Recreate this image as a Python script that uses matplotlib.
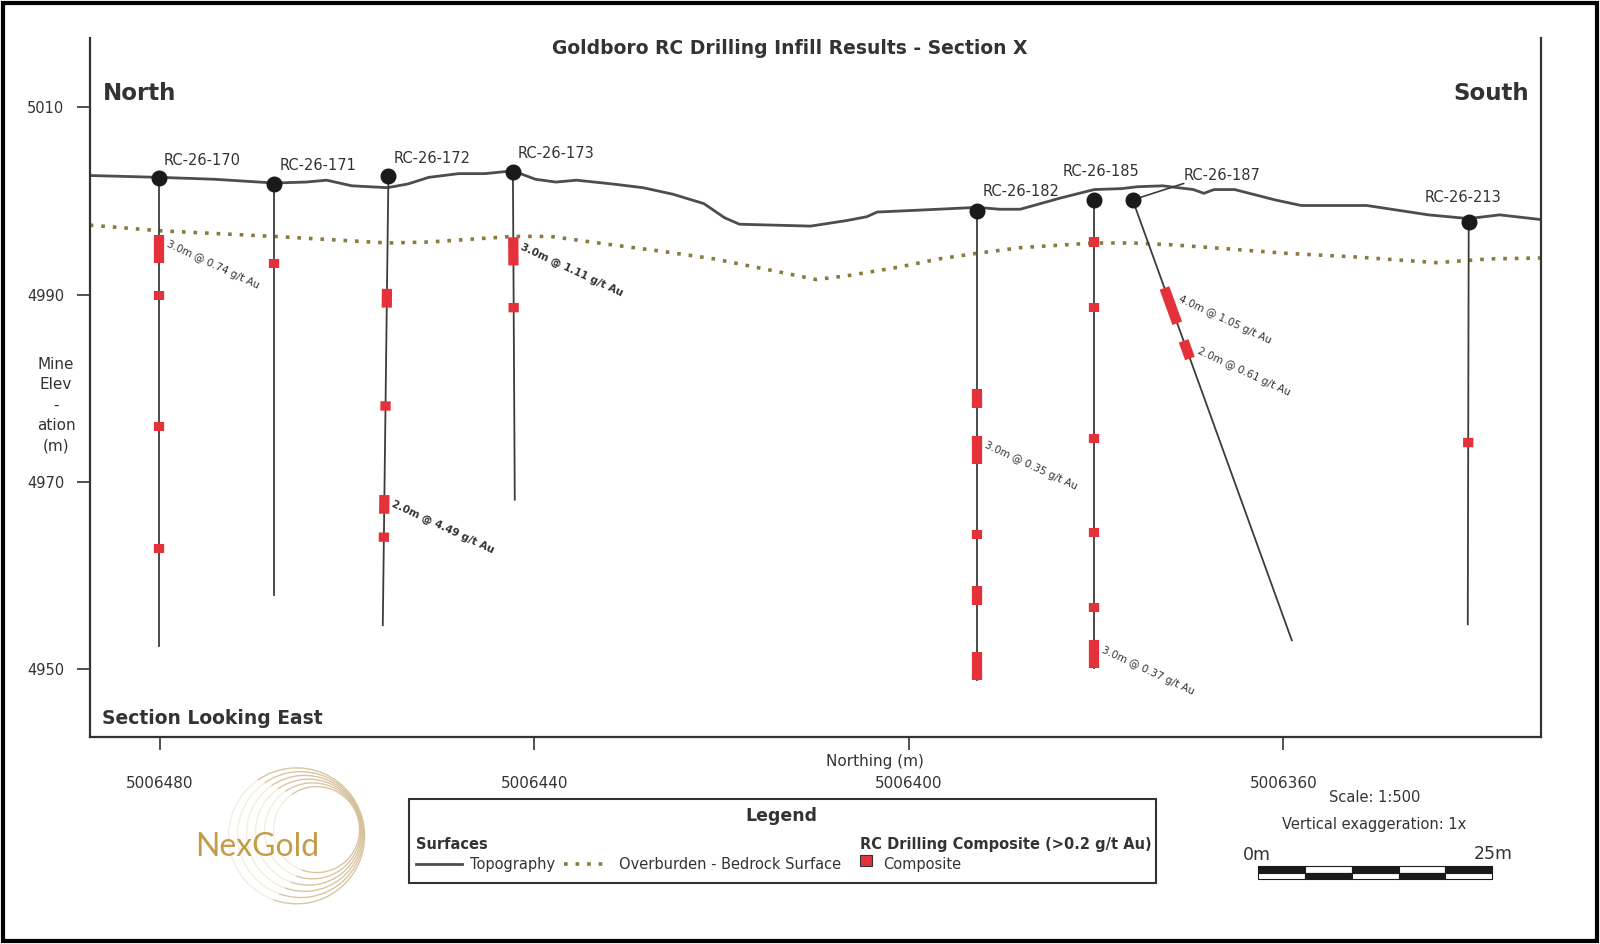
import numpy as np
import matplotlib.pyplot as plt
from matplotlib.patches import Rectangle, Arc

# drill holes: collar and end of hole, as (northing, elevation)
hole_ids = ['RC-26-170', 'RC-26-171', 'RC-26-172', 'RC-26-173',
            'RC-26-182', 'RC-26-185', 'RC-26-187', 'RC-26-213']
collar_n = [5006480.1, 5006467.8, 5006455.6, 5006442.3,
            5006392.7, 5006380.2, 5006376.1, 5006340.2]
collar_z = [5002.4, 5001.8, 5002.6, 5003.1, 4998.9, 5000.1, 5000.1, 4997.7]
end_n = [5006480.1, 5006467.8, 5006456.2, 5006442.1,
         5006392.7, 5006380.2, 5006359.1, 5006340.3]
end_z = [4952.5, 4957.9, 4954.7, 4968.1, 4948.9, 4950.1, 4953.1, 4954.8]

# composites (>0.2 g/t Au), depth along hole in m
comp_hole = [0, 0, 0, 0,
             1,
             2, 2, 2, 2,
             3, 3,
             4, 4, 4, 4, 4,
             5, 5, 5, 5, 5, 5,
             6, 6,
             7]
comp_from = [6, 12, 26, 39,
             8,
             12, 24, 34, 38,
             7, 14,
             19, 24, 34, 40, 47,
             4, 11, 25, 35, 43, 47,
             10, 16,
             23]
comp_to = [9, 13, 27, 40,
           9,
           14, 25, 36, 39,
           10, 15,
           21, 27, 35, 42, 50,
           5, 12, 26, 36, 44, 50,
           14, 18,
           24]
comp_text = ['3.0m @ 0.74 g/t Au', '', '', '',
             '',
             '', '', '2.0m @ 4.49 g/t Au', '',
             '3.0m @ 1.11 g/t Au', '',
             '', '3.0m @ 0.35 g/t Au', '', '', '',
             '', '', '', '', '', '3.0m @ 0.37 g/t Au',
             '4.0m @ 1.05 g/t Au', '2.0m @ 0.61 g/t Au',
             '']
bold_text = ['2.0m @ 4.49 g/t Au', '3.0m @ 1.11 g/t Au']

# surfaces
topo_n = [5006487.5, 5006480.0, 5006474.2, 5006467.8, 5006464.4, 5006462.2,
          5006459.5, 5006455.7, 5006453.5, 5006451.3, 5006448.1, 5006445.3,
          5006442.3, 5006439.9, 5006437.7, 5006435.5, 5006431.7, 5006428.4,
          5006425.2, 5006421.9, 5006419.7, 5006418.1, 5006414.3, 5006410.5,
          5006406.6, 5006404.5, 5006403.4, 5006399.0, 5006392.7, 5006390.3,
          5006388.1, 5006383.8, 5006380.2, 5006377.3, 5006375.6, 5006372.9,
          5006369.6, 5006368.5, 5006367.4, 5006365.2, 5006360.9, 5006358.1,
          5006351.1, 5006347.8, 5006344.5, 5006340.2, 5006336.9, 5006332.5]
topo_z = [5002.7, 5002.5, 5002.3, 5001.9, 5002.0, 5002.2,
          5001.6, 5001.4, 5001.8, 5002.5, 5002.9, 5002.9,
          5003.2, 5002.3, 5002.0, 5002.2, 5001.8, 5001.4,
          5000.7, 4999.7, 4998.2, 4997.5, 4997.4, 4997.3,
          4997.9, 4998.3, 4998.8, 4999.0, 4999.3, 4999.1,
          4999.1, 5000.3, 5001.2, 5001.3, 5001.5, 5001.6,
          5001.2, 5000.8, 5001.2, 5001.2, 5000.1, 4999.5,
          4999.5, 4999.0, 4998.5, 4998.1, 4998.5, 4998.0]
ob_n = [5006487.5, 5006480.0, 5006467.8, 5006455.7, 5006451.3, 5006442.3,
        5006438.3, 5006431.7, 5006426.3, 5006420.8, 5006414.3, 5006409.9,
        5006406.6, 5006401.2, 5006396.8, 5006392.7, 5006388.1, 5006380.2,
        5006376.1, 5006371.8, 5006366.3, 5006359.8, 5006352.2, 5006343.6,
        5006338.0, 5006332.5]
ob_z = [4997.4, 4996.8, 4996.2, 4995.5, 4995.6, 4996.2,
        4996.2, 4995.3, 4994.6, 4993.8, 4992.5, 4991.6,
        4992.0, 4992.9, 4993.8, 4994.4, 4995.0, 4995.5,
        4995.5, 4995.3, 4994.9, 4994.4, 4994.0, 4993.4,
        4993.8, 4993.9]

x_ticks = [5006480, 5006440, 5006400, 5006360]
y_ticks = [5010, 4990, 4970, 4950]

# label offsets for hole names (points from collar)
label_off = [(3, 13), (3.7, 13.2), (3.7, 13.2), (3.7, 13.2),
             (3.7, 14), (-22.8, 20.6), (36.8, 17.6), (-31.6, 17.6)]

txt = '#333333'
line_col = '#4d4d4d'
red = '#e5323a'
gold = '#c49c48'

fig = plt.figure(figsize=(16, 9.44), dpi=100)
ax = fig.add_axes([0.0561, 0.2195, 0.9069, 0.7405])
ax.set_xlim(5006487.5, 5006332.5)
ax.set_ylim(4942.8, 5017.4)

for s in ['left', 'bottom', 'right']:
    ax.spines[s].set_linewidth(1.6)
    ax.spines[s].set_color('#333333')
ax.spines['top'].set_visible(False)

ax.set_xticks(x_ticks)
ax.set_xticklabels([str(t) for t in x_ticks])
ax.set_yticks(y_ticks)
ax.set_yticklabels([str(t) for t in y_ticks])
ax.tick_params(axis='x', length=9.5, width=1.2, pad=19, labelsize=11,
               colors=txt)
ax.tick_params(axis='y', length=9.5, width=1.2, pad=9, labelsize=10.5,
               colors=txt)

ax.plot(topo_n, topo_z, color=line_col, lw=2, zorder=2)
ax.plot(ob_n, ob_z, color='#8a7a3d', lw=2.6, ls=(0, (1, 2.2)), zorder=2)


def along(i, d):
    dn = end_n[i] - collar_n[i]
    dz = end_z[i] - collar_z[i]
    L = np.hypot(dn, dz)
    return collar_n[i] + dn * d / L, collar_z[i] + dz * d / L


# hole traces
for i in range(len(hole_ids)):
    ax.plot([collar_n[i], end_n[i]], [collar_z[i], end_z[i]],
            color='#3c3c3c', lw=1.3, zorder=3)

# composites
for k in range(len(comp_hole)):
    h = comp_hole[k]
    n0, z0 = along(h, comp_from[k])
    n1, z1 = along(h, comp_to[k])
    ax.plot([n0, n1], [z0, z1], color=red, lw=7.4, solid_capstyle='butt',
            zorder=4)
    if comp_text[k]:
        w = 'bold' if comp_text[k] in bold_text else 'normal'
        off = (7, -3) if end_n[h] == collar_n[h] or h != 6 else (12, -4)
        ax.annotate(comp_text[k], xy=(n0, z0), xytext=off,
                    textcoords='offset points', ha='left', va='top',
                    rotation=-25, rotation_mode='anchor', fontsize=7.5,
                    fontweight=w, color=txt, zorder=5)

# collars and labels
ax.plot(collar_n, collar_z, 'o', color='#1a1a1a', ms=10.5, zorder=6)
for i, name in enumerate(hole_ids):
    ax.annotate(name, xy=(collar_n[i], collar_z[i]), xytext=label_off[i],
                textcoords='offset points', ha='left', va='center',
                fontsize=10.5, color=txt, zorder=6)
ax.annotate('', xy=(collar_n[6], collar_z[6]), xytext=(36.8, 11.8),
            textcoords='offset points',
            arrowprops=dict(arrowstyle='-', color='#3c3c3c', lw=1.2,
                            shrinkA=0, shrinkB=0))

# titles and annotations
fig.text(0.4936, 0.949, 'Goldboro RC Drilling Infill Results - Section X',
         ha='center', va='center', fontsize=13.5, fontweight='bold', color=txt)
fig.text(0.0644, 0.9005, 'North', ha='left', va='center', fontsize=16.5,
         fontweight='bold', color=txt)
fig.text(0.9554, 0.9005, 'South', ha='right', va='center', fontsize=16.5,
         fontweight='bold', color=txt)
fig.text(0.0638, 0.2389, 'Section Looking East', ha='left', va='center',
         fontsize=13.5, fontweight='bold', color=txt)
fig.text(0.0351, 0.5708, 'Mine\nElev\n-\nation\n(m)', ha='center',
         va='center', fontsize=11, linespacing=1.45, color=txt)
fig.text(0.5466, 0.1935, 'Northing (m)', ha='center', va='center',
         fontsize=11, color=txt)

# legend box
fig.patches.append(Rectangle((0.2557, 0.0649), 0.4669, 0.0886,
                             transform=fig.transFigure, fill=False,
                             lw=1.5, ec='#333333'))
fig.text(0.4885, 0.1351, 'Legend', ha='center', va='center', fontsize=12.5,
         fontweight='bold', color=txt)
fig.text(0.2602, 0.1059, 'Surfaces', ha='left', va='center', fontsize=10.5,
         fontweight='bold', color=txt)
fig.add_artist(plt.Line2D([0.2602, 0.2889], [0.0843, 0.0843],
                          transform=fig.transFigure, color=line_col, lw=2))
fig.text(0.294, 0.0843, 'Topography', ha='left', va='center', fontsize=10.5,
         color=txt)
fig.add_artist(plt.Line2D([0.3527, 0.3814], [0.0843, 0.0843],
                          transform=fig.transFigure, color='#8a7a3d', lw=2.6,
                          ls=(0, (1, 2.2))))
fig.text(0.3871, 0.0843, 'Overburden - Bedrock Surface', ha='left',
         va='center', fontsize=10.5, color=txt)
fig.text(0.5376, 0.1059, 'RC Drilling Composite (>0.2 g/t Au)', ha='left',
         va='center', fontsize=10.5, fontweight='bold', color=txt)
fig.patches.append(Rectangle((0.5376, 0.0822), 0.0077, 0.0119,
                             transform=fig.transFigure, fc=red, ec='#333333',
                             lw=0.8))
fig.text(0.5517, 0.0843, 'Composite', ha='left', va='center', fontsize=10.5,
         color=txt)

# scale bar (25 m at plot scale)
fig.canvas.draw()
p0 = ax.transData.transform((5006400, 4950))
p1 = ax.transData.transform((5006375, 4950))
bar_w = abs(p1[0] - p0[0]) / fig.bbox.width
bx, by, bh = 0.7864, 0.0692, 0.0065
for j in range(5):
    top_black = j % 2 == 0
    fig.patches.append(Rectangle((bx + j * bar_w / 5, by + bh), bar_w / 5, bh,
                                 transform=fig.transFigure,
                                 fc='#1a1a1a' if top_black else 'white',
                                 ec='#1a1a1a', lw=0.8))
    fig.patches.append(Rectangle((bx + j * bar_w / 5, by), bar_w / 5, bh,
                                 transform=fig.transFigure,
                                 fc='white' if top_black else '#1a1a1a',
                                 ec='#1a1a1a', lw=0.8))
fig.text(bx - 0.0096, 0.0941, '0m', ha='left', va='center', fontsize=12.5,
         color=txt)
fig.text(0.9452, 0.0951, '25m', ha='right', va='center', fontsize=12.5,
         color=txt)
fig.text(0.859, 0.1557, 'Scale: 1:500', ha='center', va='center',
         fontsize=10.5, color=txt)
fig.text(0.859, 0.1265, 'Vertical exaggeration: 1x', ha='center',
         va='center', fontsize=10.5, color=txt)

# logo
lax = fig.add_axes([0.1116, 0.0378, 0.1244, 0.1514])
lax.set_xlim(0, 199)
lax.set_ylim(0, 143)
lax.axis('off')
for r in [68, 63, 58, 53, 48, 43]:
    cx = 118 + (68 - r) * 0.8
    cy = 72.5 + (68 - r) * 0.25
    lax.add_patch(Arc((cx, cy), 2 * r, 2 * r, theta1=-110, theta2=125,
                      color='#d2bc93', lw=1.0, alpha=0.85))
    lax.add_patch(Arc((cx, cy), 2 * r, 2 * r, theta1=125, theta2=250,
                      color='#ebe0c8', lw=0.9, alpha=0.6))
fig.text(0.1607, 0.1027, 'NexGold', ha='center', va='center', fontsize=23,
         family='Lato', color=gold)

# outer frame
fig.patches.append(Rectangle((0.002, 0.003), 0.996, 0.994,
                             transform=fig.transFigure, fill=False, lw=3,
                             ec='black'))

fig.savefig('out.png', dpi=100)
